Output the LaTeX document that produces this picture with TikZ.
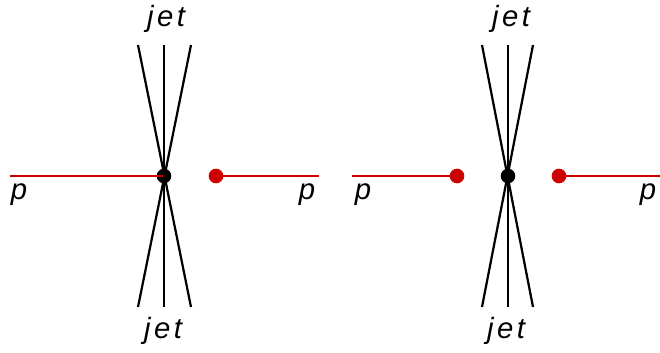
\documentclass[tikz,border=0pt]{standalone}
\usepackage{fontspec}
\setmainfont{Liberation Sans}
\newfontfamily\spacedsans[LetterSpace=12]{Liberation Sans}
\definecolor{beamred}{RGB}{204,0,0}
\tikzset{
  beam/.style={draw=beamred, line width=1.3pt},
  jetline/.style={draw=black, line width=1.9pt},
  protondot/.style={circle, fill=beamred, inner sep=0pt, minimum size=12.5pt},
  vertexdot/.style={circle, fill=black, inner sep=0pt, minimum size=12.5pt},
  lbl/.style={font=\fontsize{25}{28}\selectfont\itshape, inner sep=0pt},
  jetlbl/.style={font=\fontsize{25}{28}\selectfont\spacedsans\itshape, inner sep=0pt}
}
\begin{document}
\begin{tikzpicture}[x=0.03cm, y=-0.03cm]
\useasboundingbox (0,0) rectangle (660,352);
% left: one proton hits, the other one misses
\begin{scope}[shift={(0,0)}]
\coordinate (lbeamL) at (10,176);
\node[vertexdot] (lvtx) at (164,176) {};
\node[protondot] (lpR) at (216,176) {};
\coordinate (lbeamR) at (319,176);
\draw[beam] (lbeamL) -- (lvtx.center);
\draw[beam] (lpR.center) -- (lbeamR);
\coordinate (ljt1) at (138,45);
\coordinate (ljt2) at (164,45);
\coordinate (ljt3) at (191,45);
\coordinate (ljb1) at (191,307);
\coordinate (ljb2) at (164,307);
\coordinate (ljb3) at (138,307);
\draw[jetline] (ljt1) -- (ljb1);
\draw[jetline, line width=1.5pt] (ljt2) -- (ljb2);
\draw[jetline] (ljt3) -- (ljb3);
\node[jetlbl] (ljetT) at (166,19) {jet};
\node[jetlbl] (ljetB) at (163,331) {jet};
\node[lbl] (lpL) at (19,195) {p};
\node[lbl] (lpRl) at (307,195) {p};
\end{scope}
% right: both protons miss
\begin{scope}[shift={(0,0)}]
\coordinate (rbeamL) at (352,176);
\node[protondot] (rpL) at (457,176) {};
\node[vertexdot] (rvtx) at (508,176) {};
\node[protondot] (rpR) at (559,176) {};
\coordinate (rbeamR) at (660,176);
\draw[beam] (rbeamL) -- (rpL.center);
\draw[beam] (rpR.center) -- (rbeamR);
\coordinate (rjt1) at (482,45);
\coordinate (rjt2) at (508,45);
\coordinate (rjt3) at (533,45);
\coordinate (rjb1) at (533,307);
\coordinate (rjb2) at (508,307);
\coordinate (rjb3) at (482,307);
\draw[jetline] (rjt1) -- (rjb1);
\draw[jetline, line width=1.5pt] (rjt2) -- (rjb2);
\draw[jetline] (rjt3) -- (rjb3);
\node[jetlbl] (rjetT) at (511,19) {jet};
\node[jetlbl] (rjetB) at (506,331) {jet};
\node[lbl] (rpLl) at (363,195) {p};
\node[lbl] (rpRl) at (648,195) {p};
\end{scope}
\end{tikzpicture}
\end{document}
